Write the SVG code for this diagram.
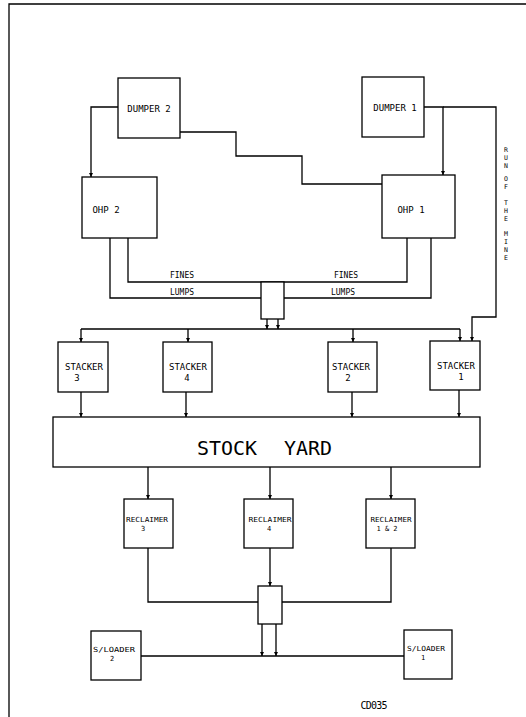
<svg xmlns="http://www.w3.org/2000/svg" width="526" height="717" viewBox="0 0 526 717">
<style>
.bx{fill:#fff;stroke:#000;stroke-width:1.3}
.ln{fill:none;stroke:#000;stroke-width:1.3}
.ar{marker-end:url(#ah)}
text{font-family:"DejaVu Sans Mono","Liberation Mono",monospace;fill:#000;text-anchor:middle}
.t9{font-size:9px}
.t8{font-size:8px}
.t7{font-size:7px}
.rm{font-size:6.5px}
.sy{font-size:19px}
</style>
<defs>
<marker id="ah" viewBox="0 0 6 6" refX="6" refY="3" markerWidth="4" markerHeight="4" orient="auto" markerUnits="userSpaceOnUse"><path d="M0,0 L6,3 L0,6 z" fill="#000"/></marker>
</defs>
<rect width="526" height="717" fill="#fff"/>
<g id="border" class="ln"><path d="M9,717 V4 H526"/></g>

<g id="connectors">
<path class="ln ar" d="M118,107 H91 V177"/>
<path class="ln" d="M180,132 H236 V156 H302 V184 H382"/>
<path class="ln ar" d="M424,107 H443 V175"/>
<path class="ln ar" d="M443,107 H496 V317 H472 V341"/>
<path class="ln" d="M128,238 V282 H407 V238"/>
<path class="ln" d="M110,238 V298 H261"/>
<path class="ln" d="M284,298 H431 V238"/>
<path class="ln ar" d="M267,319 V329"/>
<path class="ln ar" d="M278,319 V329"/>
<path class="ln" d="M81,329 H460"/>
<path class="ln ar" d="M81,329 V342"/>
<path class="ln ar" d="M188,329 V342"/>
<path class="ln ar" d="M353,329 V342"/>
<path class="ln ar" d="M460,329 V341"/>
<path class="ln ar" d="M81,392 V417"/>
<path class="ln ar" d="M186,392 V417"/>
<path class="ln ar" d="M352,392 V417"/>
<path class="ln ar" d="M459,390 V417"/>
<path class="ln ar" d="M148,467 V499"/>
<path class="ln ar" d="M270,467 V499"/>
<path class="ln ar" d="M391,467 V499"/>
<path class="ln" d="M148,548 V602 H258"/>
<path class="ln" d="M391,548 V602 H282"/>
<path class="ln ar" d="M270,548 V586"/>
<path class="ln ar" d="M262,624 V656"/>
<path class="ln ar" d="M276,624 V656"/>
<path class="ln" d="M141,656 H404"/>
</g>

<g id="dumper2"><rect class="bx" x="118" y="78" width="62" height="60"/><text class="t9" x="149" y="112">DUMPER 2</text></g>
<g id="dumper1"><rect class="bx" x="362" y="77" width="62" height="60"/><text class="t9" x="395" y="111">DUMPER 1</text></g>
<g id="ohp2"><rect class="bx" x="82" y="177" width="75" height="61"/><text class="t9" x="106" y="213">OHP 2</text></g>
<g id="ohp1"><rect class="bx" x="382" y="175" width="73" height="63"/><text class="t9" x="411" y="213">OHP 1</text></g>
<g id="run-of-mine">
<text class="rm" x="506" y="152">R</text><text class="rm" x="506" y="160">U</text><text class="rm" x="506" y="168">N</text>
<text class="rm" x="506" y="181">O</text><text class="rm" x="506" y="189">F</text>
<text class="rm" x="506" y="205">T</text><text class="rm" x="506" y="213">H</text><text class="rm" x="506" y="221">E</text>
<text class="rm" x="506" y="236">M</text><text class="rm" x="506" y="244">I</text><text class="rm" x="506" y="252">N</text><text class="rm" x="506" y="260">E</text>
</g>
<g id="labels-flow">
<text class="t8" x="182" y="278">FINES</text>
<text class="t8" x="182" y="295">LUMPS</text>
<text class="t8" x="346" y="278">FINES</text>
<text class="t8" x="343" y="295">LUMPS</text>
</g>
<g id="junction1"><rect class="bx" x="261" y="282" width="23" height="37"/></g>
<g id="stacker3"><rect class="bx" x="58" y="342" width="50" height="50"/><text class="t9" x="84" y="370">STACKER</text><text class="t9" x="77" y="381">3</text></g>
<g id="stacker4"><rect class="bx" x="163" y="342" width="49" height="50"/><text class="t9" x="188" y="370">STACKER</text><text class="t9" x="187" y="381">4</text></g>
<g id="stacker2"><rect class="bx" x="328" y="342" width="49" height="50"/><text class="t9" x="351" y="370">STACKER</text><text class="t9" x="348" y="381">2</text></g>
<g id="stacker1"><rect class="bx" x="430" y="341" width="50" height="49"/><text class="t9" x="456" y="369">STACKER</text><text class="t9" x="461" y="380">1</text></g>
<g id="stockyard"><rect class="bx" x="53" y="417" width="427" height="50"/><text class="sy" x="227" y="455" textLength="60" lengthAdjust="spacingAndGlyphs">STOCK</text><text class="sy" x="308" y="455" textLength="48" lengthAdjust="spacingAndGlyphs">YARD</text></g>
<g id="reclaimer3"><rect class="bx" x="124" y="499" width="49" height="49"/><text class="t7" x="147" y="522" textLength="42" lengthAdjust="spacingAndGlyphs">RECLAIMER</text><text class="t7" x="143" y="531">3</text></g>
<g id="reclaimer4"><rect class="bx" x="244" y="499" width="49" height="49"/><text class="t7" x="270" y="522" textLength="43" lengthAdjust="spacingAndGlyphs">RECLAIMER</text><text class="t7" x="269" y="531">4</text></g>
<g id="reclaimer12"><rect class="bx" x="366" y="499" width="49" height="49"/><text class="t7" x="391" y="522" textLength="41" lengthAdjust="spacingAndGlyphs">RECLAIMER</text><text class="t7" x="387" y="531">1 &amp; 2</text></g>
<g id="junction2"><rect class="bx" x="258" y="586" width="24" height="38"/></g>
<g id="sloader2"><rect class="bx" x="91" y="631" width="50" height="49"/><text class="t7" x="114" y="652" textLength="42" lengthAdjust="spacingAndGlyphs">S/LOADER</text><text class="t7" x="112" y="661">2</text></g>
<g id="sloader1"><rect class="bx" x="404" y="630" width="48" height="49"/><text class="t7" x="426" y="651" textLength="38" lengthAdjust="spacingAndGlyphs">S/LOADER</text><text class="t7" x="423" y="660">1</text></g>
<text class="t9" x="374" y="709" style="font-size:10px" textLength="27" lengthAdjust="spacing">CD035</text>
</svg>
